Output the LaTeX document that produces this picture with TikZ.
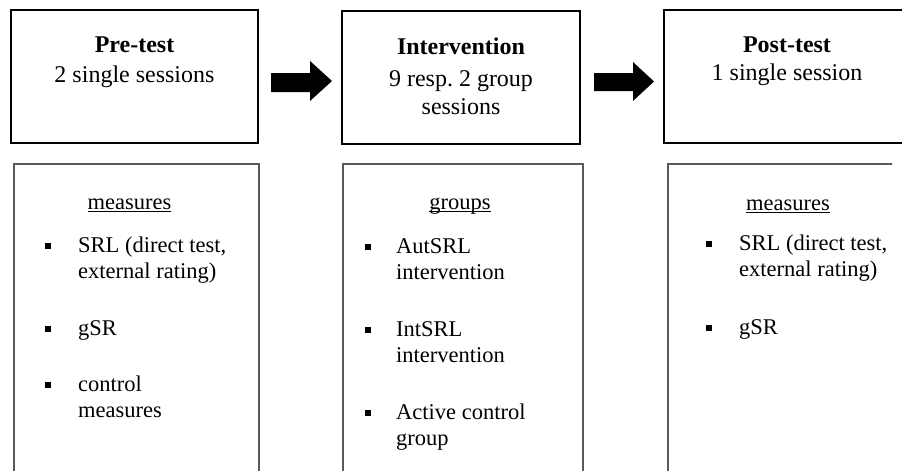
\documentclass[tikz,border=0pt]{standalone}
\usepackage{fontspec}
\setmainfont{Liberation Serif}
% underline drawn at a fixed depth, crossing descenders
\newcommand\ulword[1]{\setbox0\hbox{#1}\rlap{\rule[-3pt]{\wd0}{0.9pt}}\box0}
\begin{document}
\begin{tikzpicture}[x=1pt,y=-1pt,
  phase/.style={draw=black, line width=2.2pt, rectangle, inner sep=0},
  panel/.style={draw=black!65, line width=1.4pt, rectangle, inner sep=0},
  head/.style={anchor=base, inner sep=0, font=\fontsize{24}{28}\selectfont},
  item/.style={anchor=base west, inner sep=0, font=\fontsize{22.5}{26}\selectfont},
  ttl/.style={anchor=base, inner sep=0, font=\fontsize{22.5}{26}\selectfont},
  bul/.style={fill=black, minimum size=5.5pt, inner sep=0},
  blockarrow/.style={fill=black}]
\useasboundingbox (0,0) rectangle (902,471);
\clip (0,0) rectangle (902,471);

% phase boxes
\node[phase, minimum width=247pt, minimum height=133pt] (pre) at (134.5,76.5) {};
\node[phase, minimum width=238pt, minimum height=133pt] (int) at (461,77.5) {};
\node[phase, minimum width=246pt, minimum height=133pt] (post) at (787,76.5) {};

\node[head] (preT) at (134.5,52) {\textbf{Pre-test}};
\node[head] (preS) at (134.5,82) {2 single sessions};
\node[head] (intT) at (461,54) {\textbf{Intervention}};
\node[head] (intS1) at (461,86) {9 resp.\ 2 group};
\node[head] (intS2) at (461,114) {sessions};
\node[head] (postT) at (787,52) {\textbf{Post-test}};
\node[head] (postS) at (787,80) {1 single session};

% block arrows between phases
\fill[blockarrow] (271,73) -- (310,73) -- (310,61) -- (332,81) -- (310,101) -- (310,92) -- (271,92) -- cycle;
\fill[blockarrow] (594,73) -- (633,73) -- (633,62) -- (654,81.5) -- (633,101) -- (633,91) -- (594,91) -- cycle;

% detail panels
\node[panel, minimum width=245pt, minimum height=330pt] (preP) at (136.5,329) {};
\node[panel, minimum width=240pt, minimum height=330pt] (intP) at (463,329) {};
\begin{scope}
\clip (600,150) rectangle (892,480);
\node[panel, minimum width=240pt, minimum height=330pt] (postP) at (788,329) {};
\end{scope}

% pre-test measures
\node[ttl] (preH) at (129.5,209) {\ulword{measures}};
\node[bul] (pb1) at (48,246) {};
\node[item] (p1a) at (78,252) {SRL (direct test,};
\node[item] (p1b) at (78,278) {external rating)};
\node[bul] (pb2) at (48,329) {};
\node[item] (p2a) at (78,335) {gSR};
\node[bul] (pb3) at (48,385) {};
\node[item] (p3a) at (78,391) {control};
\node[item] (p3b) at (78,417) {measures};

% intervention groups
\node[ttl] (intH) at (460,209) {\ulword{groups}};
\node[bul] (ib1) at (368,247) {};
\node[item] (i1a) at (396,253) {AutSRL};
\node[item] (i1b) at (396,279) {intervention};
\node[bul] (ib2) at (368,330) {};
\node[item] (i2a) at (396,336) {IntSRL};
\node[item] (i2b) at (396,362) {intervention};
\node[bul] (ib3) at (368,413) {};
\node[item] (i3a) at (396,419) {Active control};
\node[item] (i3b) at (396,445) {group};

% post-test measures
\node[ttl] (postH) at (788,210) {\ulword{measures}};
\node[bul] (qb1) at (709,244) {};
\node[item] (q1a) at (739,250) {SRL (direct test,};
\node[item] (q1b) at (739,276) {external rating)};
\node[bul] (qb2) at (709,328) {};
\node[item] (q2a) at (739,334) {gSR};
\end{tikzpicture}
\end{document}
